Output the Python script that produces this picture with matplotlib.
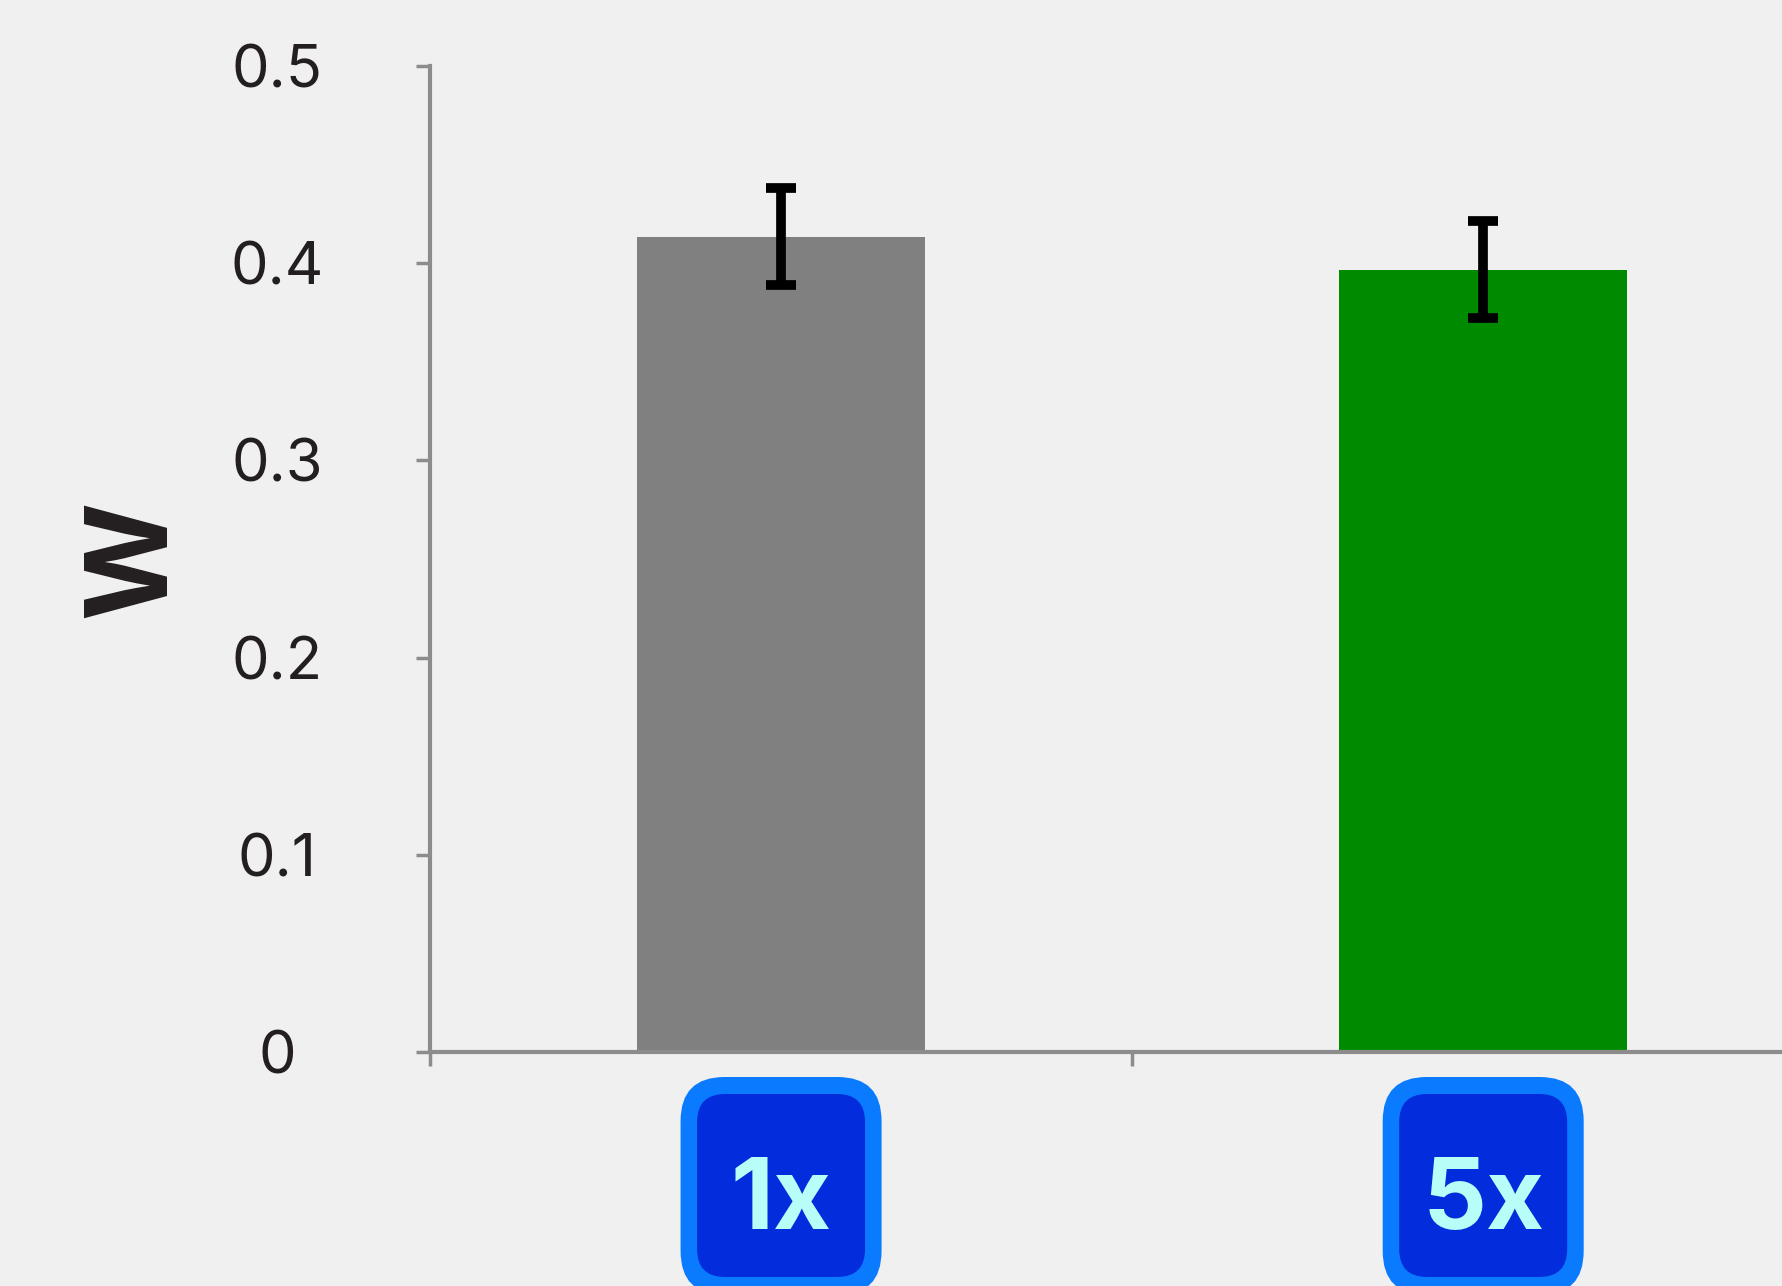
import matplotlib.pyplot as plt
from matplotlib.patches import FancyBboxPatch
from matplotlib.transforms import ScaledTranslation

# Chart data
categories = ["1x", "5x"]
w_values = [0.4135, 0.3968]
w_errors = [0.0245, 0.0245]
y_ticks = [0, 0.1, 0.2, 0.3, 0.4, 0.5]
y_tick_labels = ["0", "0.1", "0.2", "0.3", "0.4", "0.5"]

# Styles
bar_colors = ["#808080", "#008a00"]
bg = "#f0f0f0"
axis_gray = "#8c8c8c"
text_dark = "#231f20"
badge_edge = "#0a7aff"
badge_fill = "#032ddc"
badge_text = "#b8fdf8"
font = "Inter"

fig = plt.figure(figsize=(17.83, 12.86), dpi=100, facecolor=bg)
ax = fig.add_axes([430 / 1783, 234 / 1286, 1353 / 1783, 986 / 1286])
ax.set_facecolor(bg)

xs = [i + 0.5 for i in range(len(categories))]
ax.bar(xs, w_values, width=0.41, color=bar_colors, zorder=2)
ax.errorbar(xs, w_values, yerr=w_errors, fmt="none", ecolor="black",
            elinewidth=7, capsize=10.5, capthick=7, zorder=3)

ax.set_xlim(0, 1.927)
ax.set_ylim(0, 0.5)
ax.set_xticks(range(len(categories)))
ax.set_xticklabels([])
ax.set_yticks(y_ticks)
ax.set_yticklabels(y_tick_labels, family=font, fontsize=43, color=text_dark)
for lbl in ax.get_yticklabels():
    lbl.set_horizontalalignment("center")
ax.tick_params(axis="y", length=10, width=2.5, color=axis_gray, pad=100)
ax.tick_params(axis="x", length=10, width=2.5, color=axis_gray)

for side in ["top", "right"]:
    ax.spines[side].set_visible(False)
for side in ["left", "bottom"]:
    ax.spines[side].set_color(axis_gray)
    ax.spines[side].set_linewidth(3)

ax.set_ylabel("W", family=font, fontsize=82, fontweight="bold",
              color=text_dark, va="center")
ax.yaxis.set_label_coords(-0.218, 0.5)

# Category badges below the axis, anchored to each bar centre (sizes in inches)
for x, label in zip(xs, categories):
    tr = fig.dpi_scale_trans + ScaledTranslation(x, 0, ax.transData)
    outer = FancyBboxPatch((-1.005, -2.43), 2.01, 2.18,
                           boxstyle="round,pad=0,rounding_size=0.44",
                           fc=badge_edge, ec="none", transform=tr, clip_on=False)
    inner = FancyBboxPatch((-0.84, -2.25), 1.68, 1.83,
                           boxstyle="round,pad=0,rounding_size=0.28",
                           fc=badge_fill, ec="none", transform=tr, clip_on=False)
    fig.add_artist(outer)
    fig.add_artist(inner)
    fig.text(0, -1.77, label, transform=tr, ha="center", va="baseline",
             family=font, fontweight="bold", fontsize=72, color=badge_text)

fig.savefig("out.png", dpi=100, facecolor=bg)
